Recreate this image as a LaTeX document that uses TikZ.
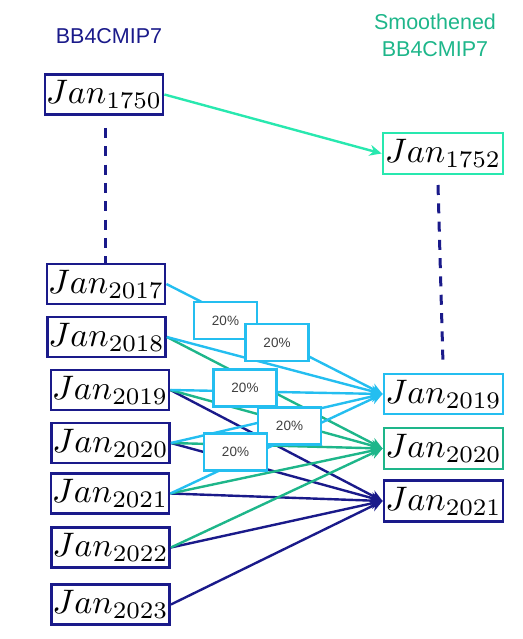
\documentclass[tikz,border=0pt]{standalone}
\usepackage{graphicx}
\usepackage{fontspec}
\setsansfont{Liberation Sans}
\usetikzlibrary{arrows.meta}
\definecolor{navyc}{RGB}{26,26,138}
\definecolor{skyc}{RGB}{36,190,240}
\definecolor{greenc}{RGB}{30,182,138}
\definecolor{mintc}{RGB}{40,232,175}
\definecolor{pctgray}{RGB}{64,64,64}
\newcommand{\janlab}[1]{\raisebox{-2pt}{\scalebox{3.4}{$Jan_{#1}$}}}
\tikzset{
  jbox/.style={draw, line width=2.8pt, minimum width=118pt, minimum height=40pt, inner sep=0pt},
  pbox/.style={draw=skyc, line width=2.8pt, fill=white, minimum width=63pt, minimum height=37pt, inner sep=1pt, font=\sffamily\fontsize{13.5}{15}\selectfont, text=pctgray},
  conn/.style={line width=2.4pt, -{Stealth[length=12pt,width=11pt]}},
  dashline/.style={draw=navyc, line width=3pt, dash pattern=on 10pt off 8.3pt},
  title/.style={font=\sffamily\fontsize{21.5}{27}\selectfont, align=center}
}
\begin{document}
\begin{tikzpicture}[x=1pt,y=-1pt]
\useasboundingbox (0,0) rectangle (522,639);
% titles
\node[title, text=navyc] (t1) at (109,36) {BB4CMIP7};
\node[title, text=greenc] (t2) at (435,35) {Smoothened\\BB4CMIP7};
% left column
\node[jbox, draw=navyc] (L1750) at (104,94.5) {\janlab{1750}};
\node[jbox, draw=navyc] (L2017) at (106,284) {\janlab{2017}};
\node[jbox, draw=navyc] (L2018) at (106.5,337) {\janlab{2018}};
\node[jbox, draw=navyc] (L2019) at (110,390) {\janlab{2019}};
\node[jbox, draw=navyc] (L2020) at (110.5,443) {\janlab{2020}};
\node[jbox, draw=navyc] (L2021) at (110,493.5) {\janlab{2021}};
\node[jbox, draw=navyc] (L2022) at (110.5,547.5) {\janlab{2022}};
\node[jbox, draw=navyc] (L2023) at (110.5,604.5) {\janlab{2023}};
% right column
\node[jbox, draw=mintc, minimum width=120pt, minimum height=41pt] (R1752) at (443,153.5) {\janlab{1752}};
\node[jbox, draw=skyc, minimum width=119pt] (R2019) at (443.5,394) {\janlab{2019}};
\node[jbox, draw=greenc, minimum width=119pt, minimum height=41pt] (R2020) at (443.5,448.5) {\janlab{2020}};
\node[jbox, draw=navyc, minimum width=119pt, minimum height=41pt] (R2021) at (443.5,501) {\janlab{2021}};
% dashed links
\coordinate (d1) at (105,128);
\draw[dashline] (d1) -- (d1 |- L2017.north);
\coordinate (d2) at (438,185);
\coordinate (d3) at (443,364);
\draw[dashline] (d2) -- (d3);
% top arrow
\draw[conn, mintc] (L1750.east) -- (R1752.west);
% navy to 2021
\foreach \s in {L2019,L2020,L2021,L2022,L2023}
  \draw[conn, navyc] (\s.east) -- (R2021.west);
% green to 2020
\foreach \s in {L2018,L2019,L2020,L2021,L2022}
  \draw[conn, greenc] (\s.east) -- (R2020.west);
% sky to 2019
\foreach \s in {L2017,L2018,L2019,L2020,L2021}
  \draw[conn, skyc] (\s.east) -- (R2019.west);
% percentage boxes
\node[pbox] (p1) at (225.5,320.5) {20\%};
\node[pbox] (p2) at (277,342.5) {20\%};
\node[pbox] (p3) at (245,388) {20\%};
\node[pbox] (p4) at (289.5,426) {20\%};
\node[pbox] (p5) at (235.5,452) {20\%};
\end{tikzpicture}
\end{document}
